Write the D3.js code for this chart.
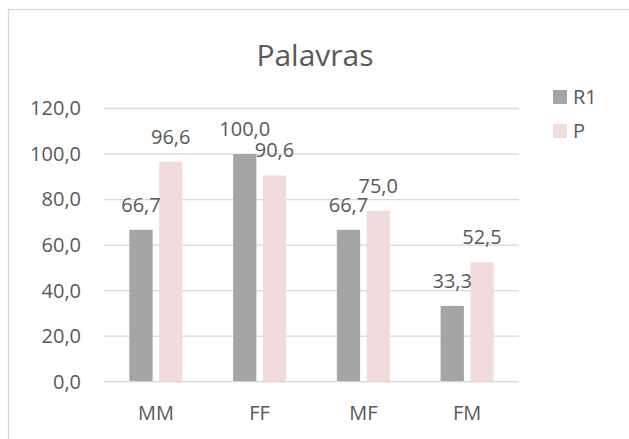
<!DOCTYPE html>
<html><head><meta charset="utf-8">
<script src="https://cdn.jsdelivr.net/npm/d3@7"></script>
<style>body{margin:0;background:#fff}svg{display:block}text{font-family:"Open Sans",sans-serif;fill:#595959}</style>
</head><body><svg id="c" width="629" height="439"></svg>
<script>
const title = "Palavras";
const categories = ["MM", "FF", "MF", "FM"];
const seriesNames = ["R1", "P"];
const r1Values = [66.7, 100.0, 66.7, 33.3];
const pValues = [96.6, 90.6, 75.0, 52.5];
const yTicks = [0, 20, 40, 60, 80, 100, 120];
const colors = ["#a5a5a5", "#f2dcdb"];

const svg = d3.select("#c");
const fmt = v => d3.format(".1f")(v).replace(".", ",");
const series = [r1Values, pValues];

svg.append("rect").attr("x", 8.5).attr("y", 9.5).attr("width", 700).attr("height", 500)
  .attr("fill", "#fff").attr("stroke", "#d9d9d9").attr("stroke-width", 1.3);

const x0 = d3.scaleBand().domain(categories).range([104, 519]).padding(0);
const x1 = d3.scaleBand().domain(seriesNames).range([0, x0.bandwidth()]).paddingInner(0.218).paddingOuter(0.852);
const y = d3.scaleLinear().domain([0, 120]).range([381.7, 108.5]);

const yAxis = d3.axisLeft(y).tickValues(yTicks).tickFormat(fmt).tickSize(0).tickPadding(23);
const gy = svg.append("g").attr("transform", "translate(104,0)").call(yAxis);
gy.select(".domain").remove();
gy.selectAll("text").attr("font-size", 20).attr("fill", "#595959").attr("font-family", "Open Sans");

svg.append("g").selectAll("line").data(yTicks).join("line")
  .attr("x1", 104).attr("x2", 519).attr("y1", d => y(d)).attr("y2", d => y(d))
  .attr("stroke", "#d9d9d9").attr("stroke-width", 1.3);

const groups = svg.append("g").selectAll("g").data(categories).join("g")
  .attr("transform", d => `translate(${x0(d)},0)`);
seriesNames.forEach((s, si) => {
  groups.append("rect")
    .attr("x", x1(s)).attr("width", x1.bandwidth())
    .attr("y", (d, i) => y(series[si][i]))
    .attr("height", (d, i) => y(0) - y(series[si][i]))
    .attr("fill", colors[si]);
});
svg.append("line").attr("x1", 104).attr("x2", 519).attr("y1", y(0)).attr("y2", y(0))
  .attr("stroke", "#d9d9d9").attr("stroke-width", 1.3);
seriesNames.forEach((s, si) => {
  groups.append("text")
    .attr("x", x1(s) + x1.bandwidth() / 2)
    .attr("y", (d, i) => y(series[si][i]) - 18)
    .attr("text-anchor", "middle").attr("font-size", 20)
    .text((d, i) => fmt(series[si][i]));
});

const xAxis = d3.axisBottom(x0).tickSize(0).tickPadding(0);
const gx = svg.append("g").attr("transform", "translate(0,420)").call(xAxis);
gx.select(".domain").remove();
gx.selectAll("text").attr("font-size", 20).attr("dy", 0).attr("y", 0).attr("fill", "#595959").attr("font-family", "Open Sans");

svg.append("text").attr("x", 315).attr("y", 66).attr("text-anchor", "middle")
  .attr("font-size", 30).text(title);

const leg = svg.append("g").selectAll("g").data(seriesNames).join("g")
  .attr("transform", (d, i) => `translate(553,${90 + i * 34})`);
leg.append("rect").attr("width", 14).attr("height", 14).attr("fill", (d, i) => colors[i]);
leg.append("text").attr("x", 20).attr("y", 14).attr("font-size", 20).text(d => d);
</script></body></html>
